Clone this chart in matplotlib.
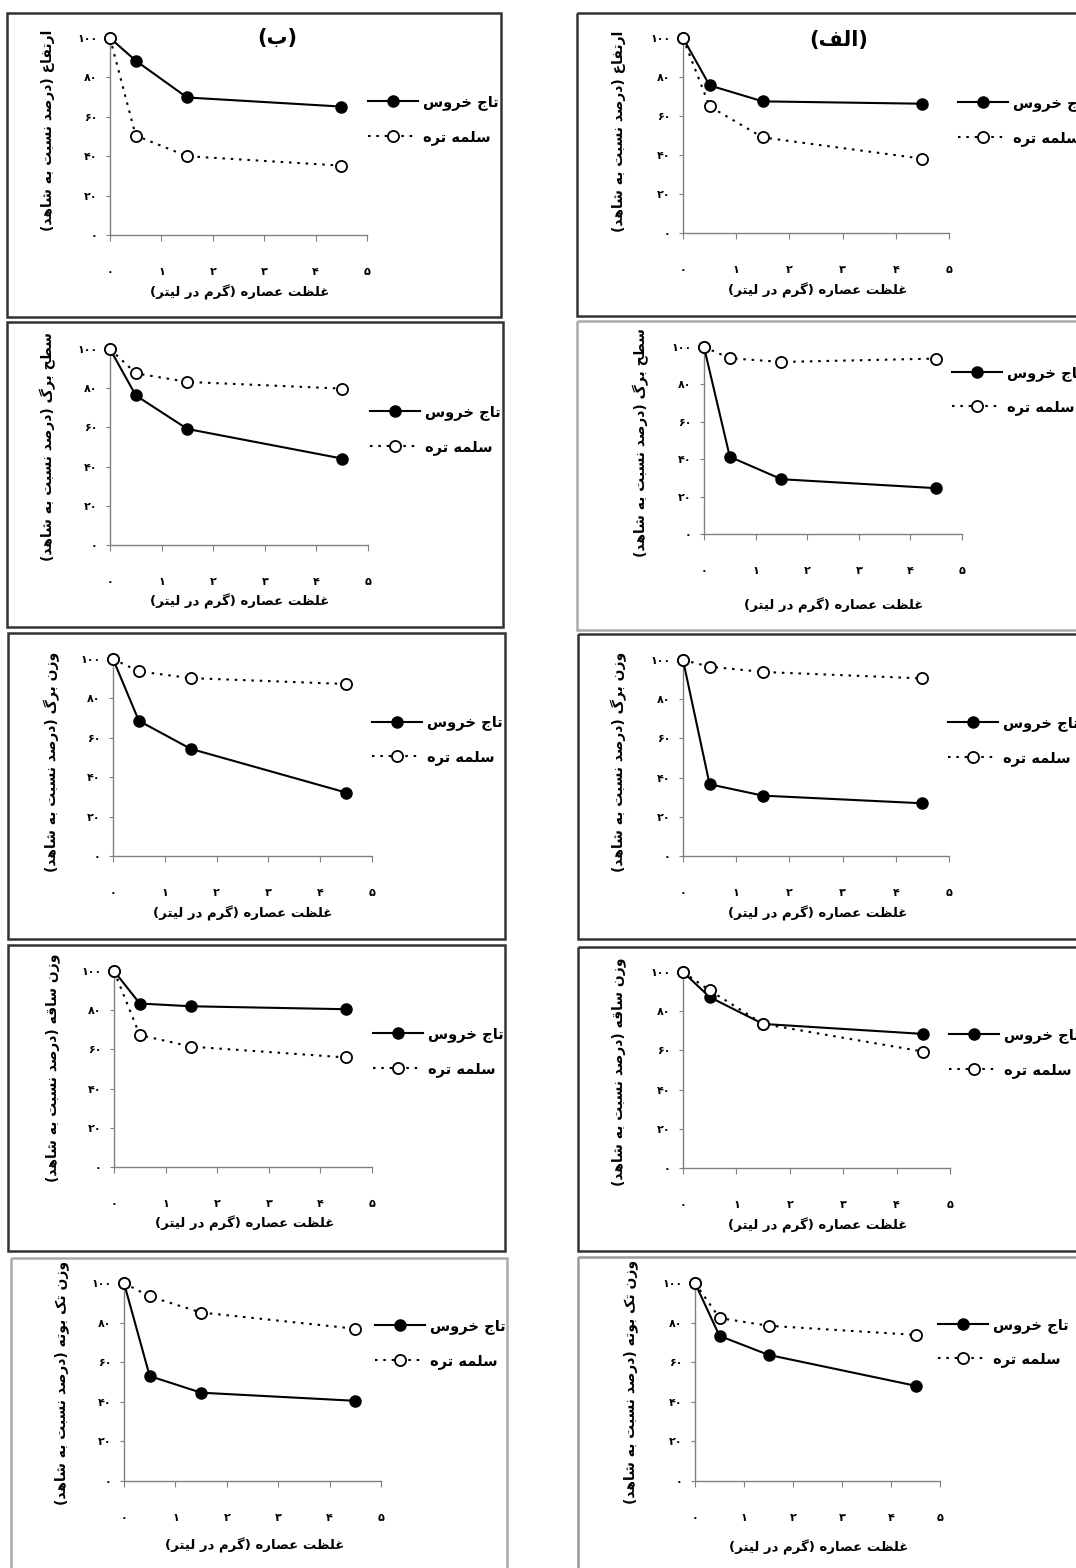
import matplotlib
matplotlib.use('Agg')
import matplotlib.pyplot as plt
from matplotlib.patches import Rectangle

plt.rcParams['font.family'] = ['DejaVu Sans']
plt.rcParams['font.weight'] = 'bold'

## data (percent of control), extract concentration in g/L
conc = [0, 0.5, 1.5, 4.5]

height_b_taj = [100, 88.5, 69.8, 65.2]
height_b_sal = [100, 50.5, 40.0, 35.2]
height_a_taj = [100, 75.7, 67.5, 66.3]
height_a_sal = [100, 64.9, 49.0, 38.1]

leafarea_b_taj = [100, 76.3, 59.2, 44.1]
leafarea_b_sal = [100, 87.6, 83.2, 79.8]
leafarea_a_taj = [100, 41.3, 29.3, 24.5]
leafarea_a_sal = [100, 94.0, 92.0, 93.8]

leafwt_b_taj = [100, 68.6, 54.4, 32.2]
leafwt_b_sal = [100, 93.7, 90.3, 87.3]
leafwt_a_taj = [100, 36.6, 30.8, 26.9]
leafwt_a_sal = [100, 96.6, 93.9, 90.6]

stem_b_taj = [100, 83.4, 82.0, 80.5]
stem_b_sal = [100, 67.3, 61.4, 55.9]
stem_a_taj = [100, 87.2, 73.5, 68.4]
stem_a_sal = [100, 90.6, 73.5, 59.4]

plant_b_taj = [100, 53.0, 44.6, 40.5]
plant_b_sal = [100, 93.2, 85.1, 76.9]
plant_a_taj = [100, 73.3, 63.7, 48.1]
plant_a_sal = [100, 82.3, 78.4, 73.8]

series_names = ['تاج خروس', 'سلمه تره']
xticks = [0, 1, 2, 3, 4, 5]
xtick_labels = ['۰', '۱', '۲', '۳', '۴', '۵']
yticks = [0, 20, 40, 60, 80, 100]
ytick_labels = ['۰', '۲۰', '۴۰', '۶۰', '۸۰', '۱۰۰']
xlabel = 'غلظت عصاره (گرم در لیتر)'
ylabels = ['ارتفاع (درصد نسبت به شاهد)',
           'سطح برگ (درصد نسبت به شاهد)',
           'وزن برگ (درصد نسبت به شاهد)',
           'وزن ساقه (درصد نسبت به شاهد)',
           'وزن تک بوته (درصد نسبت به شاهد)']
titles = ['(ب)', '(الف)']

## minimal arabic shaping: (isolated, final, initial, medial)
FORMS = {
    'ا': ('\uFE8D', '\uFE8E', None, None),
    'ب': ('\uFE8F', '\uFE90', '\uFE91', '\uFE92'),
    'ت': ('\uFE95', '\uFE96', '\uFE97', '\uFE98'),
    'ج': ('\uFE9D', '\uFE9E', '\uFE9F', '\uFEA0'),
    'ح': ('\uFEA1', '\uFEA2', '\uFEA3', '\uFEA4'),
    'خ': ('\uFEA5', '\uFEA6', '\uFEA7', '\uFEA8'),
    'د': ('\uFEA9', '\uFEAA', None, None),
    'ر': ('\uFEAD', '\uFEAE', None, None),
    'ز': ('\uFEAF', '\uFEB0', None, None),
    'س': ('\uFEB1', '\uFEB2', '\uFEB3', '\uFEB4'),
    'ش': ('\uFEB5', '\uFEB6', '\uFEB7', '\uFEB8'),
    'ص': ('\uFEB9', '\uFEBA', '\uFEBB', '\uFEBC'),
    'ط': ('\uFEC1', '\uFEC2', '\uFEC3', '\uFEC4'),
    'ظ': ('\uFEC5', '\uFEC6', '\uFEC7', '\uFEC8'),
    'ع': ('\uFEC9', '\uFECA', '\uFECB', '\uFECC'),
    'غ': ('\uFECD', '\uFECE', '\uFECF', '\uFED0'),
    'ف': ('\uFED1', '\uFED2', '\uFED3', '\uFED4'),
    'ق': ('\uFED5', '\uFED6', '\uFED7', '\uFED8'),
    'ل': ('\uFEDD', '\uFEDE', '\uFEDF', '\uFEE0'),
    'م': ('\uFEE1', '\uFEE2', '\uFEE3', '\uFEE4'),
    'ن': ('\uFEE5', '\uFEE6', '\uFEE7', '\uFEE8'),
    'ه': ('\uFEE9', '\uFEEA', '\uFEEB', '\uFEEC'),
    'و': ('\uFEED', '\uFEEE', None, None),
    'ی': ('\uFBFC', '\uFBFD', '\uFBFE', '\uFBFF'),
    'ک': ('\uFB8E', '\uFB8F', '\uFB90', '\uFB91'),
    'گ': ('\uFB92', '\uFB93', '\uFB94', '\uFB95'),
}


def fa(s):
    out = []
    for i, c in enumerate(s):
        if c not in FORMS:
            out.append(c)
            continue
        prev = s[i - 1] if i > 0 else None
        nxt = s[i + 1] if i + 1 < len(s) else None
        jp = prev in FORMS and FORMS[prev][2] is not None
        jn = FORMS[c][2] is not None and nxt in FORMS
        iso, fin, ini, med = FORMS[c]
        out.append(med if jp and jn else fin if jp else ini if jn else iso)
    return ''.join(reversed(out)).translate(str.maketrans('()', ')('))


W, H = 1076, 1568
fig = plt.figure(figsize=(W / 100, H / 100), dpi=100)
bg = fig.add_axes([0, 0, 1, 1])
bg.set_xlim(0, W)
bg.set_ylim(H, 0)
bg.axis('off')

# panel layout in pixels: axes x0,x5,y0,y100 ; box ; legend x,y(axes frac) ; ylabel x,y ; xlabel x,y
panels = [
    dict(d=(height_b_taj, height_b_sal), ax=(110, 367, 235, 38), box=(7, 13, 501, 317, '#333333'),
         leg=(368, 0.584), yl=(48, 130), xl=(240, 292)),
    dict(d=(height_a_taj, height_a_sal), ax=(683, 949, 233, 38), box=(577, 13, 1090, 316, '#333333'),
         leg=(958, 0.577), yl=(619, 131), xl=(818, 290)),
    dict(d=(leafarea_b_taj, leafarea_b_sal), ax=(110, 368, 545, 349), box=(7, 322, 503, 627, '#333333'),
         leg=(370, 0.587), yl=(48, 447), xl=(240, 601)),
    dict(d=(leafarea_a_taj, leafarea_a_sal), ax=(704, 962, 534, 347), box=(577, 321, 1090, 630, '#aaaaaa'),
         leg=(952, 0.77), yl=(641, 443), xl=(834, 605)),
    dict(d=(leafwt_b_taj, leafwt_b_sal), ax=(113, 372, 856, 659), box=(8, 633, 505, 939, '#333333'),
         leg=(372, 0.589), yl=(52, 762), xl=(243, 913)),
    dict(d=(leafwt_a_taj, leafwt_a_sal), ax=(683, 949, 856, 660), box=(578, 634, 1090, 939, '#333333'),
         leg=(948, 0.59), yl=(619, 762), xl=(818, 913)),
    dict(d=(stem_b_taj, stem_b_sal), ax=(114, 372, 1167, 971), box=(8, 945, 505, 1251, '#333333'),
         leg=(373, 0.589), yl=(53, 1068), xl=(245, 1223)),
    dict(d=(stem_a_taj, stem_a_sal), ax=(683, 950, 1168, 972), box=(578, 947, 1090, 1251, '#333333'),
         leg=(949, 0.587), yl=(619, 1072), xl=(818, 1225)),
    dict(d=(plant_b_taj, plant_b_sal), ax=(124, 381, 1481, 1283), box=(11, 1258, 507, 1600, '#aaaaaa'),
         leg=(375, 0.695), yl=(62, 1383), xl=(255, 1545)),
    dict(d=(plant_a_taj, plant_a_sal), ax=(695, 940, 1481, 1283), box=(578, 1257, 1090, 1600, '#999999'),
         leg=(938, 0.702), yl=(631, 1382), xl=(819, 1547)),
]

for i, p in enumerate(panels):
    x0, x5, y0, y100 = p['ax']
    bx0, by0, bx1, by1, bc = p['box']
    bg.add_patch(Rectangle((bx0, by0), bx1 - bx0, by1 - by0, fill=False,
                           edgecolor=bc, linewidth=1.8))
    ax = fig.add_axes([x0 / W, 1 - y0 / H, (x5 - x0) / W, (y0 - y100) / H])
    ax.patch.set_alpha(0)
    taj, sal = p['d']
    ax.plot(conc, taj, '-', color='black', linewidth=1.5, marker='o', markersize=8,
            markerfacecolor='black', markeredgecolor='black', clip_on=False,
            label=fa(series_names[0]), zorder=3)
    ax.plot(conc, sal, color='black', linestyle=(0, (1.2, 2.8)), linewidth=1.5, marker='o',
            markersize=8, markerfacecolor='white', markeredgecolor='black', markeredgewidth=1.3,
            clip_on=False, label=fa(series_names[1]), zorder=3)
    ax.set_xlim(0, 5)
    ax.set_ylim(0, 100)
    for s in ['top', 'right']:
        ax.spines[s].set_visible(False)
    for s in ['left', 'bottom']:
        ax.spines[s].set_color('#808080')
        ax.spines[s].set_linewidth(1.0)
    ax.set_xticks(xticks)
    ax.set_xticklabels(xtick_labels, fontsize=8, fontweight='bold')
    ax.set_yticks(yticks)
    ax.set_yticklabels(ytick_labels, fontsize=8, fontweight='bold')
    ax.tick_params(axis='x', direction='out', length=4, color='#808080', pad=19)
    ax.tick_params(axis='y', direction='out', length=3, color='#808080', pad=6)
    lx, ly = p['leg']
    ax.legend(loc='center left', bbox_to_anchor=((lx - x0) / (x5 - x0), ly), frameon=False,
              borderpad=0, borderaxespad=0, handlelength=3.4, handletextpad=0.35,
              labelspacing=1.3, prop={'size': 10.5, 'weight': 'bold'})
    bg.text(p['yl'][0], p['yl'][1], fa(ylabels[i // 2]), rotation=90, ha='center', va='center',
            fontsize=10, fontweight='bold')
    bg.text(p['xl'][0], p['xl'][1], fa(xlabel), ha='center', va='center',
            fontsize=9.5, fontweight='bold')

bg.text(277, 38, fa(titles[0]), ha='center', va='center', fontsize=15, fontweight='bold')
bg.text(839, 40, fa(titles[1]), ha='center', va='center', fontsize=15, fontweight='bold')

fig.savefig('out.png', dpi=100)
